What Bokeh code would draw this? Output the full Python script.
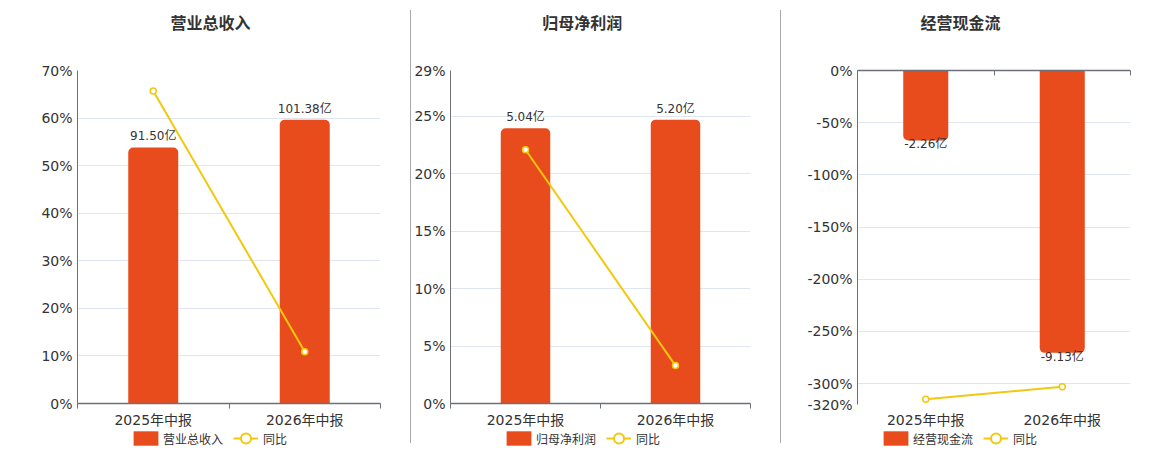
from bokeh.plotting import figure
from bokeh.models import (Range1d, FixedTicker, PrintfTickFormatter, Legend, LegendItem,
                          ColumnDataSource, Div, Label, LinearAxis)
from bokeh.layouts import row, column
from bokeh.embed import file_html
from bokeh.resources import INLINE
from bokeh.core.properties import value

# ---------------- data ----------------
categories = ["2025年中报", "2026年中报"]

revenue = [91.50, 101.38]          # 亿
revenue_yoy = [65.7, 10.9]         # %
profit = [5.04, 5.20]              # 亿
profit_yoy = [22.1, 3.3]           # %
cashflow = [-2.26, -9.13]          # 亿
cashflow_yoy = [-315.0, -303.0]    # %

titles = ["营业总收入", "归母净利润", "经营现金流"]
yoy_name = "同比"
ticks1 = [0, 10, 20, 30, 40, 50, 60, 70]
ticks2 = [0, 5, 10, 15, 20, 25, 29]
ticks3 = [0, -50, -100, -150, -200, -250, -300, -320]

# ---------------- style ----------------
BAR = "#E84B1C"
LINE = "#F2C80F"
GRID = "#E0E6F1"
AXIS = "#6E7079"
TXT = "#333333"
FONT = "'DejaVu Sans', 'Noto Sans CJK SC', sans-serif"
CJK = "'Noto Sans CJK SC', sans-serif"

HEAD_H = 60
MAIN_TOP = 10
FRAME_H = 335
MAIN_BOTTOM = 25
LEG_H = 16


def bare(width, height, fw, mb_left, mb_right, yr=None):
    f = figure(width=width, height=height, output_backend="svg", toolbar_location=None,
               x_range=Range1d(0, fw), y_range=yr if yr is not None else Range1d(0, height),
               x_axis_type=None, y_axis_type=None,
               min_border_left=mb_left, min_border_right=mb_right,
               min_border_top=0, min_border_bottom=0)
    f.outline_line_color = None
    f.grid.visible = False
    f.background_fill_color = "white"
    f.border_fill_color = "white"
    return f


def panel(title, vals, yoy, ticks, yr, bar_range, width, mb_left, mb_right,
          title_x, legend_x, negative=False):
    fw = width - mb_left - mb_right   # frame width (frames are aligned in a column)

    xs = [i + 0.5 for i in range(len(categories))]
    bounds = list(range(len(categories) + 1))
    labels = [f"{v:.2f}亿" for v in vals]
    src = ColumnDataSource(dict(x=xs, v=vals, yoy=yoy, lab=labels))

    # header with title
    head = bare(width, HEAD_H, fw, mb_left, mb_right)
    head.add_layout(Label(x=title_x - mb_left, y=HEAD_H - 21.5, text=title,
                          text_align="center", text_baseline="middle",
                          text_font=CJK, text_font_size="16px",
                          text_font_style="bold", text_color=TXT))

    p = figure(width=width, height=MAIN_TOP + FRAME_H + MAIN_BOTTOM,
               output_backend="svg", toolbar_location=None,
               x_range=Range1d(0, len(categories)), y_range=Range1d(*yr),
               min_border_left=mb_left, min_border_right=mb_right,
               min_border_top=MAIN_TOP, min_border_bottom=MAIN_BOTTOM)
    p.outline_line_color = None
    p.background_fill_color = "white"
    p.border_fill_color = "white"

    p.extra_y_ranges = {"bar": Range1d(*bar_range)}

    radius = (0, 0, 5, 5) if negative else (5, 5, 0, 0)
    p.vbar(x="x", top="v", bottom=0, width=0.33, source=src, y_range_name="bar",
           fill_color=BAR, line_color=None, border_radius=radius)
    if negative:
        p.text(x="x", y="v", text="lab", source=src, y_range_name="bar",
               text_align="center", text_baseline="top", y_offset=-3,
               text_font=value(FONT), text_font_size="12px", text_color=TXT)
    else:
        p.text(x="x", y="v", text="lab", source=src, y_range_name="bar",
               text_align="center", text_baseline="bottom", y_offset=-4,
               text_font=value(FONT), text_font_size="12px", text_color=TXT)

    p.line(x="x", y="yoy", source=src, line_color=LINE, line_width=2)
    p.scatter(x="x", y="yoy", source=src, size=6, fill_color="white",
              line_color=LINE, line_width=1.5)

    # axes
    p.yaxis.ticker = FixedTicker(ticks=ticks)
    p.yaxis.formatter = PrintfTickFormatter(format="%d%%")
    p.yaxis.axis_line_color = AXIS
    p.yaxis.major_tick_line_color = None
    p.yaxis.minor_tick_line_color = None
    p.yaxis.major_tick_out = 0
    p.yaxis.major_label_standoff = 5
    p.yaxis.major_label_text_font = FONT
    p.yaxis.major_label_text_font_size = "14px"
    p.yaxis.major_label_text_color = TXT

    p.xaxis.ticker = FixedTicker(ticks=xs, minor_ticks=bounds)
    p.xaxis.major_label_overrides = {x: c for x, c in zip(xs, categories)}
    p.xaxis.major_tick_line_color = None
    p.xaxis.major_tick_out = 4
    p.xaxis.major_tick_in = 0
    p.xaxis.major_label_standoff = 3
    p.xaxis.major_label_text_font = FONT
    p.xaxis.major_label_text_font_size = "14px"
    p.xaxis.major_label_text_color = TXT
    if negative:
        p.xaxis.axis_line_color = None
        p.xaxis.minor_tick_line_color = None
        top_axis = LinearAxis(ticker=FixedTicker(ticks=[], minor_ticks=bounds),
                              axis_line_color=AXIS, axis_line_width=1.5,
                              major_tick_line_color=None, major_tick_out=0, major_tick_in=0,
                              minor_tick_line_color=AXIS, minor_tick_in=5, minor_tick_out=0,
                              major_label_standoff=0, major_label_text_font_size="1px")
        p.add_layout(top_axis, "above")
    else:
        p.xaxis.axis_line_color = AXIS
        p.xaxis.axis_line_width = 1.5
        p.xaxis.minor_tick_line_color = AXIS
        p.xaxis.minor_tick_out = 5
        p.xaxis.minor_tick_in = 0

    p.xgrid.grid_line_color = None
    p.ygrid.ticker = FixedTicker(ticks=ticks)
    p.ygrid.grid_line_color = GRID

    # legend strip (its glyphs use the series data but lie outside its view)
    leg = bare(width, LEG_H, fw, mb_left, mb_right, yr=Range1d(5000, 5001))
    lg_bar = leg.vbar(x="x", top="v", bottom=0, width=0.33, source=src,
                      fill_color=BAR, line_color=None)
    lg_line = leg.line(x="x", y="yoy", source=src, line_color=LINE, line_width=2)
    lg_pt = leg.scatter(x="x", y="yoy", source=src, size=11, fill_color="white",
                        line_color=LINE, line_width=2)
    common = dict(orientation="horizontal", padding=0, margin=0, border_line_color=None,
                  background_fill_alpha=0, label_text_font=FONT,
                  label_text_font_size="12px", label_text_color=TXT, label_height=14)
    legend_a = Legend(items=[LegendItem(label=title, renderers=[lg_bar])],
                      location=(legend_x - mb_left - 3, -1),
                      glyph_width=31, glyph_height=18, label_standoff=2, **common)
    legend_b = Legend(items=[LegendItem(label=yoy_name, renderers=[lg_line, lg_pt])],
                      location=(legend_x - mb_left + 100, -5),
                      glyph_width=25, glyph_height=26, label_standoff=5, **common)
    leg.add_layout(legend_a)
    leg.add_layout(legend_b)
    return column(head, p, leg, spacing=0)


c1 = panel(titles[0], revenue, revenue_yoy, ticks1, (0, 70), (0, 119),
           410, 77, 30, 210, 133)
c2 = panel(titles[1], profit, profit_yoy, ticks2, (0, 29), (0, 6.1),
           369, 36, 30, 169, 92)
c3 = panel(titles[2], cashflow, cashflow_yoy, ticks3, (-320, 0), (-10.8, 0),
           371, 76, 22, 179, 102, negative=True)

d1 = Div(width=1, height=433, margin=(10, 0, 0, 0), styles={"background-color": "#A8A8A8"})
d2 = Div(width=1, height=433, margin=(10, 0, 0, 0), styles={"background-color": "#A8A8A8"})

layout = row(c1, d1, c2, d2, c3, spacing=0)
open("out.html", "w").write(file_html(layout, INLINE))
